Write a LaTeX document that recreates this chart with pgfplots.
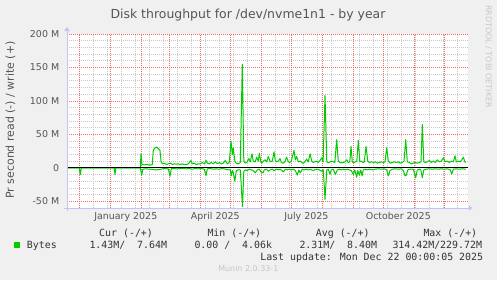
\documentclass[border=0pt]{standalone}
\usepackage{pgfplots}
\pgfplotsset{compat=1.18}
\usepackage{fontspec}
\setmainfont{DejaVu Sans}
\newfontfamily\monofont{DejaVu Sans Mono}
\usetikzlibrary{arrows.meta}
\definecolor{bg}{HTML}{F0F0F0}
\definecolor{gridred}{HTML}{F06A6A}
\definecolor{gridgray}{HTML}{C8C8C8}
\definecolor{axisblue}{HTML}{C4C4F4}
\definecolor{munin}{HTML}{00CC00}
\definecolor{txt}{HTML}{555555}
\definecolor{legtxt}{HTML}{333333}
\definecolor{wm}{HTML}{C8C8C8}
\tikzset{redgrid/.style={draw=gridred, line width=0.7bp, dash pattern=on 1bp off 1bp},
         graygrid/.style={draw=gridgray, line width=0.7bp, dash pattern=on 1bp off 1bp}}
\begin{document}
\begin{tikzpicture}[x=1bp,y=1bp]
\fill[bg] (0,0) rectangle (497,280);
\useasboundingbox (0,0) rectangle (497,280);
\begin{axis}[
  at={(67bp,72bp)}, anchor=south west,
  scale only axis, width=401bp, height=174bp,
  xmin=-43.3, xmax=357.7, ymin=-60, ymax=200,
  axis background/.style={fill=white},
  axis line style={draw=none},
  tick style={draw=none},
  major tick length=0pt, minor tick length=0pt,
  clip=false,
  xtick={15.5,105,196,288},
  xticklabels={January 2025,April 2025,July 2025,October 2025},
  ytick={-50,0,50,100,150,200},
  yticklabels={-50 M,0,50 M,100 M,150 M,200 M},
  ticklabel style={font=\fontsize{9.5}{11}\selectfont, text=txt, inner sep=0pt},
  xticklabel style={anchor=base, yshift=-11.3bp},
  yticklabel style={anchor=east, xshift=-7.6bp},
]
% grid: minor (gray) then major (red)
\pgfplotsinvokeforeach{-17,-3,11,25,39,53,67,81,95,109,123,137,165,179,193,207,221,235,249,263,277,291,305,319,333,347}{
  \draw[graygrid] (axis cs:#1,-60) -- (axis cs:#1,200);}
\pgfplotsinvokeforeach{-40,-30,-20,-10,10,20,30,40,60,70,80,90,110,120,130,140,160,170,180,190}{
  \draw[graygrid] (axis cs:-43.3,#1) -- (axis cs:357.7,#1);}
\pgfplotsinvokeforeach{-31,0,31,59,90,120,151,181,212,243,273,304,334}{
  \draw[redgrid] (axis cs:#1,-60) -- (axis cs:#1,200);}
\pgfplotsinvokeforeach{-50,50,100,150,200}{
  \draw[redgrid] (axis cs:-43.3,#1) -- (axis cs:357.7,#1);}
% write (+)
\addplot[munin, line width=1bp, line join=round] coordinates {
(-43,0)(30,0)(30.7,21)(31.7,5)(34,4.5)(37,5)(40,4)(42,5)(43,26)(44.7,30)(46.4,31)(48.4,28)(49.7,26)(50.7,10)(52,6)
(54,7)(56,5)(58,6)(60,7)(62,5)(64,6)(66,5.5)(68,6)(70,5)(72,6)(74,5)(76,5)(78,6)(80.7,11)(82,6)(84,7)(86,5)(88,6)
(90,6)(92,8)(94,6)(95.7,11)(97,7)(99,6)(101,8)(103,6)(105,9)(107,6)(109,8)(111,6)(113,7)(115,11)(117,6)(119,8)
(120.7,40)(122,20)(123,30)(124.5,10)(126,7)(128,6)(130,8)(132,155)(133.5,10)(135,7)(137,9)(138.5,14)(140,9)
(141.7,21)(143,10)(145,9)(146.3,16)(148,10)(149,22)(150.5,9)(151.5,7)(153,10)(154.7,12)(156.4,9)(158,17)(160,9)
(162,10)(163.7,24)(165,11)(166.3,9)(168,10)(169.7,14)(171,8)(173,7)(174.5,9)(176.3,16)(178,9)(179.7,8)(181,10)
(183.7,26)(185,12)(186.3,17)(188,9)(190,10)(192.3,7)(194,8)(196.3,13)(198,9)(199.7,21)(201.5,10)(203,8)(204.5,9)
(206.3,10)(208,8)(209.7,11)(211.4,15)(212.8,9)(214.7,108)(216.5,9)(218,7.5)(220,9)(221.4,10)(223,9)(224.5,8)
(226.4,42)(228,10)(229.5,8)(231.4,7.5)(233,8)(234.8,9)(236.4,12)(238,8)(239.5,9)(240.7,32)(242,9)(243.5,7.5)
(245,9)(246.5,10)(248,41)(249.5,9)(251,10)(252.5,8)(254,9)(255.7,32)(257.5,10)(259,8)(261,9)(263,8)(265,9)(267,7)
(269,8)(271,9)(273,8)(274.7,9)(276.4,30)(278,10)(280,7)(282,8)(284,9)(286,8)(288,9)(290,7)(292,8)(293.7,10)
(295.4,42)(297,9)(299,8)(301,6)(303,7)(305,8)(307,7)(309,8)(310.7,9)(312,65)(313.5,9)(315,8)(317,9)(319,11)
(321,8)(323,10)(325,8)(327,12)(329,9)(331,10)(333,15)(335,9)(337,10)(339,8)(341,10)(343,9)(344.7,18)(346,9)
(348,10)(350,9)(351.5,12)(353,16)(354.5,9)(355.5,8)
};
% read (-)
\addplot[munin, line width=1bp, line join=round] coordinates {
(-43,0)(-31,0)(-30,-10)(-29,0)(4,0)(4.7,-10)(5.5,0)(30,0)(31.4,-11)(32.5,-2)(35,-1.5)(40,-2)(43,-2.5)(46,-3)
(49,-2.5)(51,-2)(53,-1)(55,-1)(58,-1.5)(59.7,-12.5)(61,-1)(64,-1)(67,-1.5)(70,-1)(73,-1)(76,-1.5)(79,-1)(82,-2)
(85,-1)(88,-1.5)(91,-1)(94,-2)(95.7,-11.5)(97,-1.5)(100,-1)(103,-2)(106,-1.5)(109,-2)(112,-1)(115,-2)(118,-3)
(120,-3)(121,-12)(122,-4)(123,-7)(124.5,-20)(126,-4)(128,-3)(130,-3)(132.2,-58)(133.5,-5)(135,-3)(137,-4)
(139,-2)(141,-3)(143,-4)(145,-7.5)(147,-3)(149,-2)(150.5,-6)(152.7,-7.5)(154,-3)(156,-2)(158,-5)(160,-3)(162,-2)
(164,-4)(166,-2)(168,-3)(170,-2)(173,-6)(175,-2)(177,-3)(179,-2)(181,-3)(183,-2)(185,-4)(187,-11)(188.5,-3)
(190,-7.5)(192,-2)(194,-3)(196,-2)(198,-3)(200,-2.5)(203,-4)(206,-2)(209,-3)(211,-5)(213,-3)(214.7,-47)
(216.5,-3)(218,-2)(219.7,-9.5)(221,-3)(223,-2)(225,-10)(227,-3)(229,-2)(231,-3)(233,-2)(235,-3)(237,-2)(239,-3)
(241,-4)(243,-10)(244.5,-3)(246.4,-14)(247.5,-4)(249,-11)(250.5,-3)(251.7,-12)(253,-3)(255,-2)(257,-3)(259,-2)
(262,-3)(265,-2)(268,-1.5)(271,-2)(274,-1.5)(276.4,-3)(278,-12)(279.7,-4)(282,-2)(285,-1.5)(288,-2)(291,-1.5)
(293,-4)(294.7,-12)(296,-11)(297.5,-3)(300,-2)(303,-2)(305.4,-14.6)(307,-3)(309,-2)(310.5,-3)(312,-14.6)
(313.5,-3)(316,-2)(319,-1.5)(322,-2)(325,-1.5)(328,-2)(331,-1.5)(334,-2)(337,-1.5)(340,-3)(341.4,-9.5)(343,-2)
(346,-1.5)(349,-2)(352,-1.5)(355.5,-2)
};
\draw[black, line width=1bp] (axis cs:-43.3,0) -- (axis cs:357.7,0);
\end{axis}
% axes with arrows
\draw[axisblue, line width=1bp, -{Triangle[length=4bp,width=5.5bp]}] (67,69.5) -- (67,253);
\draw[axisblue, line width=1bp, -{Triangle[length=4bp,width=5.5bp]}] (63.5,72) -- (472.5,72);
% title and labels
\node[anchor=base, inner sep=0pt, text=txt, font=\fontsize{12.5}{14}\selectfont] at (248,261.7) {Disk throughput for /dev/nvme1n1 - by year};
\node[rotate=90, inner sep=0pt, text=txt, font=\fontsize{11}{13}\selectfont] at (10.5,160) {Pr second read (-) / write (+)};
\node[rotate=-90, inner sep=0pt, text=wm, font=\fontsize{8}{9}\selectfont] at (488.5,223.5) {RRDTOOL / TOBI OETIKER};
% legend
\begin{scope}[every node/.style={inner sep=0pt, text=legtxt, font=\monofont\fontsize{9.95}{11}\selectfont}]
\node[anchor=base west] at (99,44) {Cur (-/+)};
\node[anchor=base west] at (207.3,44) {Min (-/+)};
\node[anchor=base west] at (315.7,44) {Avg (-/+)};
\node[anchor=base west] at (423.3,44) {Max (-/+)};
\node[anchor=base west] at (26.7,31.7) {Bytes};
\node[anchor=base west] at (89.3,31.7) {1.43M/\phantom{00}7.64M};
\node[anchor=base west] at (194.3,31.7) {0.00\phantom{0}/\phantom{00}4.06k};
\node[anchor=base west] at (299.3,31.7) {2.31M/\phantom{00}8.40M};
\node[anchor=base west] at (392.3,31.7) {314.42M/229.72M};
\node[anchor=base east] at (483.3,19.5) {Last update: Mon Dec 22 00:00:05 2025};
\end{scope}
\fill[munin] (14,32) rectangle (20,38);
\node[anchor=base, inner sep=0pt, text=wm, font=\fontsize{8}{9}\selectfont] at (248.3,8.5) {Munin 2.0.33-1};
\end{tikzpicture}
\end{document}
